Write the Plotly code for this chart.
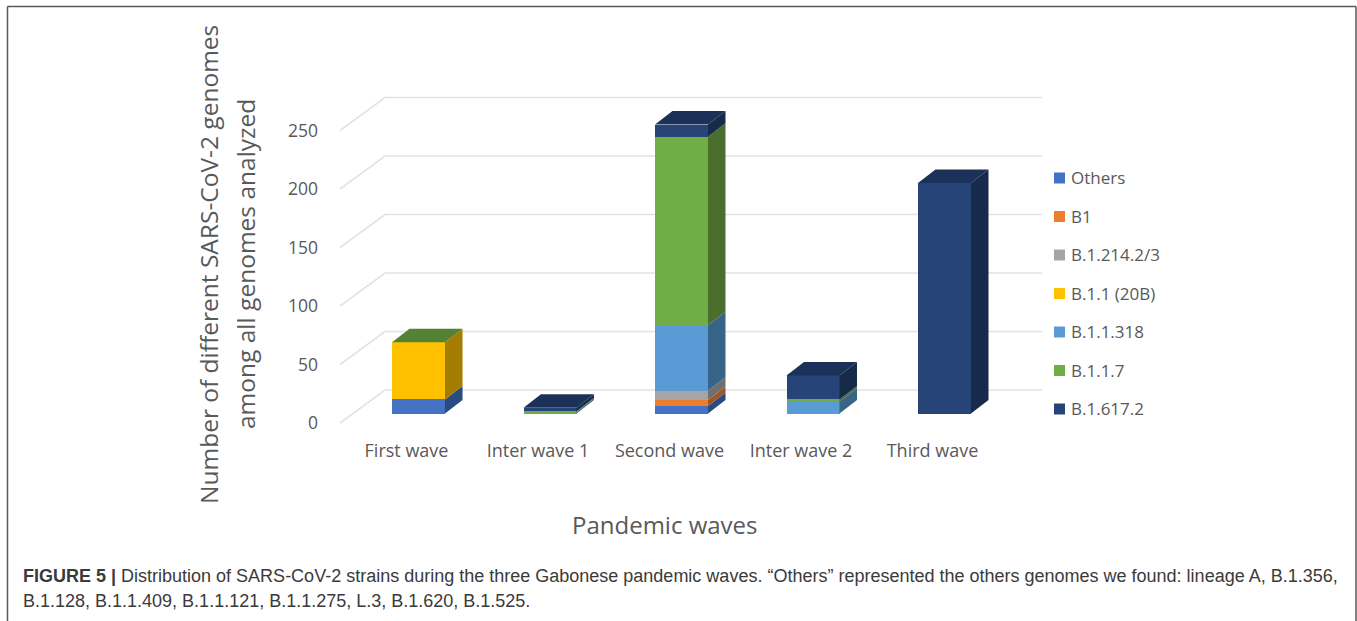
import plotly.graph_objects as go

# ---------- data ----------
waves = ["First wave", "Inter wave 1", "Second wave", "Inter wave 2", "Third wave"]
others = [12, 0, 6.5, 0, 0]
b1 = [0, 0, 5, 0, 0]
b1214 = [0, 0, 8, 0, 0]
b11 = [49, 0, 0, 0, 0]
b11318 = [0, 1, 56, 10, 0]
b117 = [0, 1, 161, 2, 0]
b16172 = [0, 3, 10.5, 20.5, 197]
y_ticks = [0, 50, 100, 150, 200, 250]
series_names = ["Others", "B1", "B.1.214.2/3", "B.1.1 (20B)", "B.1.1.318", "B.1.1.7", "B.1.617.2"]
series_values = [others, b1, b1214, b11, b11318, b117, b16172]
front_colors = ["#4472c4", "#ed7d31", "#a5a5a5", "#ffc000", "#5b9bd5", "#70ad47", "#264478"]
side_colors = ["#2a4a82", "#a2551f", "#6f6f6f", "#a37c00", "#386487", "#4a6f2d", "#172a4a"]
top_colors = ["#548235", "#1b3157", "#1b3157", "#1b3157", "#1b3157"]

W, H = 1357, 621
PX_X = 131.5            # px per category
PX_Y = 1.17             # px per genome
L, R, T, B = 340, 1042, 90, 433
INK = "#595959"
FONT = "Open Sans"


def xr(origin):
    return [(L - origin) / PX_X, (R - origin) / PX_X]


def yr(origin):
    return [(origin - B) / PX_Y, (origin - T) / PX_Y]


BAR_W = 53 / PX_X
DEPTH_X = 17.5 / PX_X
DEPTH_Y = 13.5 / PX_Y
WALL_X = 45 / PX_X
WALL_Y = 33 / PX_Y

fig = go.Figure()

# perspective gridlines: side wall + back wall, on the front-plane axes
left = xr(406.5)[0]
right = xr(406.5)[1]
gx, gy = [], []
for v in y_ticks:
    gx += [left, left + WALL_X, right, None]
    gy += [v, v + WALL_Y, v + WALL_Y, None]
fig.add_trace(go.Scatter(x=gx, y=gy, mode="lines", line=dict(color="#e2e2e2", width=1.6),
                         showlegend=False, hoverinfo="skip", xaxis="x", yaxis="y"))

# front faces
positions = list(range(len(waves)))
for name, vals, col in zip(series_names, series_values, front_colors):
    fig.add_trace(go.Bar(x=positions, y=vals, name=name, width=BAR_W, marker=dict(color=col, line=dict(width=0)),
                         showlegend=False, xaxis="x2", yaxis="y2"))

# side and top faces derived from the same values
for i in positions:
    base = 0
    for vals, col in zip(series_values, side_colors):
        h = vals[i]
        if h > 0:
            xe = i + BAR_W / 2
            fig.add_trace(go.Scatter(
                x=[xe, xe + DEPTH_X, xe + DEPTH_X, xe, xe],
                y=[base, base + DEPTH_Y, base + h + DEPTH_Y, base + h, base],
                fill="toself", fillcolor=col, mode="lines", line=dict(width=0),
                showlegend=False, hoverinfo="skip", xaxis="x2", yaxis="y2"))
        base += h
    xl, xe = i - BAR_W / 2, i + BAR_W / 2
    fig.add_trace(go.Scatter(
        x=[xl, xe, xe + DEPTH_X, xl + DEPTH_X, xl],
        y=[base, base, base + DEPTH_Y, base + DEPTH_Y, base],
        fill="toself", fillcolor=top_colors[i], mode="lines", line=dict(width=0),
        showlegend=False, hoverinfo="skip", xaxis="x2", yaxis="y2"))

dx = [L / W, R / W]
dy = [1 - B / H, 1 - T / H]
shapes = [
    dict(type="line", xref="paper", yref="paper", x0=7.5 / W, x1=7.5 / W, y0=0, y1=1 - 6.5 / H),
    dict(type="line", xref="paper", yref="paper", x0=7.5 / W, x1=1356 / W, y0=1 - 6.5 / H, y1=1 - 6.5 / H),
    dict(type="line", xref="paper", yref="paper", x0=1356 / W, x1=1356 / W, y0=0, y1=1 - 6.5 / H),
]
for s in shapes:
    s["line"] = dict(color="#5a5a5a", width=1.5)


def note(text, px, py, size, color=INK, family=FONT, angle=0, xanchor="center"):
    return dict(text=text, x=px / W, y=1 - py / H, xref="paper", yref="paper", showarrow=False,
                font=dict(size=size, color=color, family=family), textangle=angle,
                xanchor=xanchor, yanchor="middle")


annotations = [
    note("Number of different SARS-CoV-2 genomes", 208, 265, 24.5, angle=-90),
    note("among all genomes analyzed", 245, 264, 24.5, angle=-90),
    note("Pandemic waves", 665, 524, 24),
    note("<b>FIGURE 5 |</b> Distribution of SARS-CoV-2 strains during the three Gabonese pandemic waves. "
         "“Others” represented the others genomes we found: lineage A, B.1.356,",
         21, 576, 18, "#3a3a3a", "Liberation Sans", xanchor="left"),
    note("B.1.128, B.1.1.409, B.1.1.121, B.1.1.275, L.3, B.1.620, B.1.525.",
         21, 600.5, 18, "#3a3a3a", "Liberation Sans", xanchor="left"),
]

# legend column
for k, (name, col) in enumerate(zip(series_names, front_colors)):
    cy = 178 + 38.5 * k
    shapes.append(dict(type="rect", xref="paper", yref="paper", x0=1054 / W, x1=1065 / W,
                       y0=1 - (cy + 5.5) / H, y1=1 - (cy - 5.5) / H, fillcolor=col, line=dict(width=0)))
    annotations.append(note(name, 1069, cy - 0.5, 17, xanchor="left"))

fig.update_layout(
    width=W, height=H, margin=dict(l=0, r=0, t=0, b=0), autosize=False,
    paper_bgcolor="white", plot_bgcolor="white", barmode="stack", bargap=0,
    font=dict(family=FONT, color=INK), showlegend=False,
    xaxis=dict(domain=dx, range=xr(406.5), tickmode="array", tickvals=positions, ticktext=waves,
               showgrid=False, zeroline=False, showline=False, ticks="", ticklabelstandoff=5,
               tickfont=dict(size=18, color=INK, family=FONT), fixedrange=True),
    yaxis=dict(domain=dy, range=yr(423), tickmode="array", tickvals=y_ticks,
               showgrid=False, zeroline=False, showline=False, ticks="", ticklabelstandoff=21,
               tickfont=dict(size=17.5, color=INK, family=FONT), fixedrange=True),
    xaxis2=dict(domain=dx, range=xr(418.5), overlaying="x", anchor="y2", visible=False, fixedrange=True),
    yaxis2=dict(domain=dy, range=yr(413.5), overlaying="y", anchor="x2", visible=False, fixedrange=True),
    shapes=shapes,
    annotations=annotations,
)

fig.write_html("out.html", config={"displayModeBar": False},
               post_script="document.body.style.margin='0';document.body.style.overflow='hidden';")
